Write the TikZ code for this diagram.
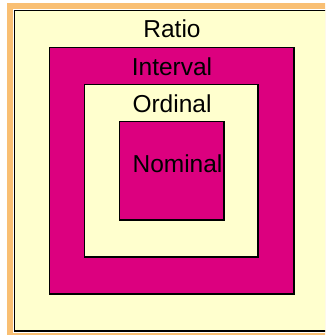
\documentclass[tikz,border=0pt]{standalone}
\usepackage{fontspec}
\setmainfont{Liberation Sans}
\definecolor{creamc}{HTML}{FFFFCE}
\definecolor{magc}{HTML}{DC007F}
\definecolor{orangec}{HTML}{F9BF73}
\begin{document}
\begin{tikzpicture}[x=1pt,y=-1pt,
  boxline/.style={draw=black,line width=1.6pt},
  lbl/.style={anchor=base,inner sep=0pt,font=\fontsize{24.5}{28}\selectfont}]
\useasboundingbox (0,0) rectangle (325,335);
\clip (0,0) rectangle (325,335);
\fill[white] (0,0) rectangle (325,335);
\fill[orangec] (7,3) rectangle (345,345);
\draw[white,line width=3.4pt] (14.5,10.5) rectangle (345,330.8);
\path[boxline,fill=creamc] (14.5,10.5) rectangle (345,330.8);
\path[boxline,fill=magc] (49.5,47.5) rectangle (294,294);
\path[boxline,fill=creamc] (84.5,84.5) rectangle (258,257);
\path[boxline,fill=magc] (119.5,121.5) rectangle (224,220);
\node[lbl] (ratio) at (172,37.7) {Ratio};
\node[lbl] (interval) at (172,75) {Interval};
\node[lbl] (ordinal) at (172,112) {Ordinal};
\node[lbl] (nominal) at (177.5,172.7) {Nominal};
\end{tikzpicture}
\end{document}
